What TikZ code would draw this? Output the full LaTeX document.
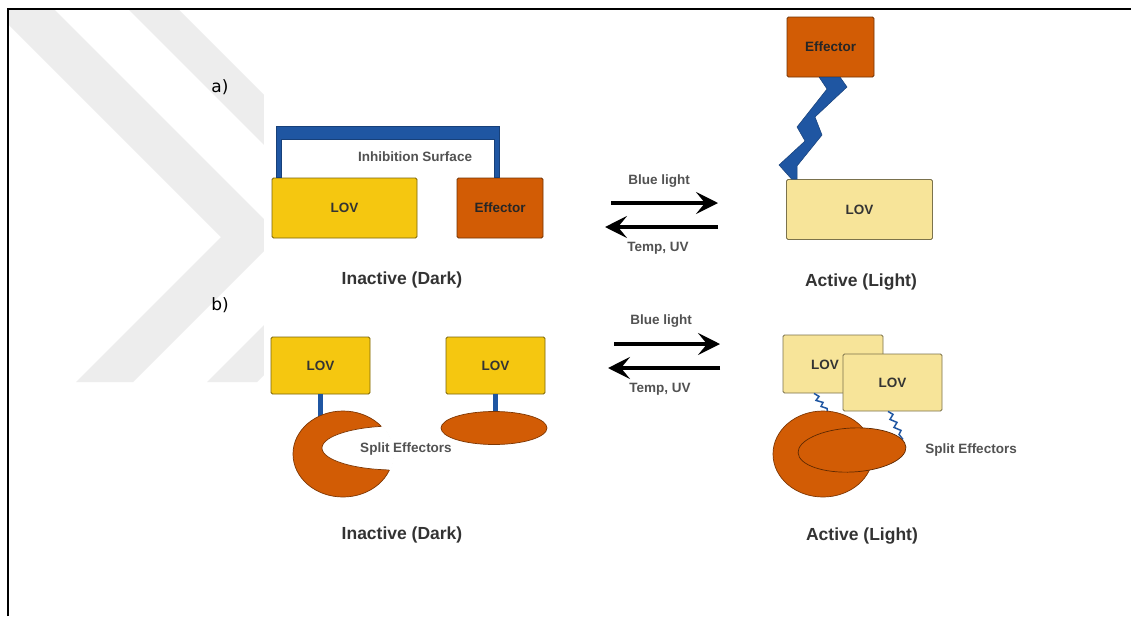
\documentclass[tikz,border=0pt]{standalone}
\usepackage{fontspec}
\setmainfont{Liberation Sans}
\newfontfamily\labfont{DejaVu Sans}
\usetikzlibrary{arrows.meta,shapes.geometric}
\definecolor{lovgold}{HTML}{F5C710}
\definecolor{lovpale}{HTML}{F7E499}
\definecolor{effor}{HTML}{D25C05}
\definecolor{linkblue}{HTML}{1F56A2}
\definecolor{txtdark}{HTML}{333333}
\definecolor{wmgray}{HTML}{EDEDED}
\begin{document}
\begin{tikzpicture}[x=1pt,y=-1pt,
  goldbox/.style={fill=lovgold, draw=lovgold!50!black, line width=0.8pt, rounded corners=1.5pt,
     inner sep=0pt, font=\fontsize{13.5}{16}\selectfont\bfseries, text=txtdark},
  palebox/.style={fill=lovpale, draw=lovpale!50!black, line width=0.8pt, rounded corners=1.5pt,
     inner sep=0pt, font=\fontsize{13.5}{16}\selectfont\bfseries, text=txtdark},
  effbox/.style={fill=effor, draw=effor!55!black, line width=0.8pt, rounded corners=1.5pt,
     inner sep=0pt, font=\fontsize{13.5}{16}\selectfont\bfseries, text=black!85},
  effshape/.style={ellipse, fill=effor, draw=effor!60!black, line width=0.7pt, inner sep=0pt, outer sep=0pt},
  biglab/.style={font=\fontsize{17.5}{20}\selectfont\bfseries, text=txtdark, inner sep=0pt},
  smlab/.style={font=\fontsize{13.5}{16}\selectfont\bfseries, text=txtdark!85, inner sep=0pt},
  partlab/.style={font=\labfont\fontsize{17}{20}\selectfont, text=black, inner sep=0pt},
  revarrow/.style={line width=4pt, -{Stealth[length=22pt,width=22pt,inset=9pt]}},
  stem/.style={draw=linkblue, line width=5pt},
  spring/.style={draw=linkblue, line width=1.5pt, line join=miter}
]
\useasboundingbox (0,0) rectangle (1131,616);
\fill[white] (0,0) rectangle (1131,616);

% watermark chevrons
\fill[wmgray] (8,10) -- (55,10) -- (280,235) -- (133,382) -- (76,382) -- (221,237) -- (8,24) -- cycle;
\fill[wmgray] (129,10) -- (179,10) -- (404,235) -- (257,382) -- (207,382) -- (354,235) -- cycle;
% diagram area
\fill[white] (264,10.5) rectangle (1131,616);

% frame
\draw[line width=2.3pt] (7.8,616) -- (7.8,9.2) -- (1131,9.2);

% part labels
\node[partlab] (pa) at (220,87) {a)};
\node[partlab] (pb) at (220,305) {b)};

% ===== a) inactive =====
\node[goldbox, minimum width=145pt, minimum height=60pt] (lovA) at (344.5,208) {LOV};
\node[effbox, minimum width=86pt, minimum height=60pt] (effA) at (500,208) {Effector};
\coordinate (brL) at ([xshift=5pt]lovA.north west);
\coordinate (brR) at ([xshift=-0.5pt]effA.north);
\fill[linkblue, draw=linkblue!75!black, line width=0.5pt]
  (brL) -- ++(0,-51) -- ([yshift=51pt]brR) -- (brR) -- ++(-5,0) -- ++(0,-38)
  -- ([xshift=5pt,yshift=38pt]brL) -- ([xshift=5pt]brL) -- cycle;
\node[smlab] (inh) at (415,157) {Inhibition Surface};
\node[biglab] (inA) at (402,280) {Inactive (Dark)};

% arrows a
\node[smlab] (blA) at (659,181) {Blue light};
\node[smlab] (tuA) at (658,248) {Temp, UV};
\coordinate (a1s) at (611,203);
\coordinate (a1e) at (718,203);
\coordinate (a2s) at (718,227);
\coordinate (a2e) at (605,227);
\draw[revarrow] (a1s) -- (a1e);
\draw[revarrow] (a2s) -- (a2e);

% ===== a) active =====
\node[effbox, minimum width=87pt, minimum height=60pt] (effB) at (830.5,47) {Effector};
\node[palebox, minimum width=146pt, minimum height=60pt] (lovB) at (859.5,209.5) {LOV};
\fill[linkblue, draw=linkblue!75!black, line width=0.5pt]
  (819,77) -- (840,77) -- (847,87) -- (815,117) -- (822,135) -- (797,166) -- (797,179)
  -- (791.5,179) -- (779,165) -- (805,141) -- (797,127) -- (827,89) -- cycle;
\node[biglab] (acA) at (861,282) {Active (Light)};

% ===== b) inactive =====
\node[goldbox, minimum width=99pt, minimum height=57pt] (lovC) at (320.5,365.5) {LOV};
\node[goldbox, minimum width=99pt, minimum height=57pt] (lovD) at (495.5,365.5) {LOV};
\draw[stem] (lovC.south) -- ++(0,30);
\draw[stem] (lovD.south) -- ++(0,25);
\node[effshape, minimum width=100pt, minimum height=86pt] (effC) at (343,454) {};
\begin{scope}
  \clip (343,454) ellipse [x radius=51pt, y radius=44pt];
  \fill[white] (395,448) ellipse [x radius=73pt, y radius=22pt];
\end{scope}
\begin{scope}
  \clip (343,454) ellipse [x radius=49.6pt, y radius=42.6pt];
  \draw[effor!60!black, line width=0.7pt] (395,448) ellipse [x radius=73pt, y radius=22pt];
\end{scope}
\node[effshape, minimum width=106pt, minimum height=33pt] (effD) at (494,428) {};
\node[smlab] (splitC) at (406,449) {Split Effectors};
\node[biglab] (inC) at (402,535) {Inactive (Dark)};

% arrows b
\node[smlab] (blB) at (661,321) {Blue light};
\node[smlab] (tuB) at (660,389) {Temp, UV};
\coordinate (b1s) at (614,344);
\coordinate (b1e) at (720,344);
\coordinate (b2s) at (720,368);
\coordinate (b2e) at (608,368);
\draw[revarrow] (b1s) -- (b1e);
\draw[revarrow] (b2s) -- (b2e);

% ===== b) active =====
\node[palebox, minimum width=100pt, minimum height=58pt] (lovE) at (833,364) {};
\node[font=\fontsize{13.5}{16}\selectfont\bfseries, text=txtdark, inner sep=0pt] (lovEt) at (825,365) {LOV};
\draw[spring] ([xshift=-19pt]lovE.south) -- ++(5,3) -- ++(-3,4) -- ++(7,2) -- ++(-2,4) -- ++(6,2) -- ++(1,8);
\node[palebox, minimum width=99pt, minimum height=57pt] (lovF) at (892.5,382.5) {LOV};
\draw[spring] ([xshift=-4.5pt]lovF.south) -- ++(5,3) -- ++(-3,5) -- ++(7,3) -- ++(-3,5) -- ++(7,3) -- ++(-2,4) -- ++(4,5);
\node[effshape, minimum width=100pt, minimum height=86pt] (effE) at (823,454) {};
\node[effshape, draw=effor!45!black, minimum width=108pt, minimum height=44pt, rotate=3] (effF) at (852,450) {};
\node[smlab] (splitE) at (971,450) {Split Effectors};
\node[biglab] (acE) at (862,536) {Active (Light)};
\end{tikzpicture}
\end{document}
